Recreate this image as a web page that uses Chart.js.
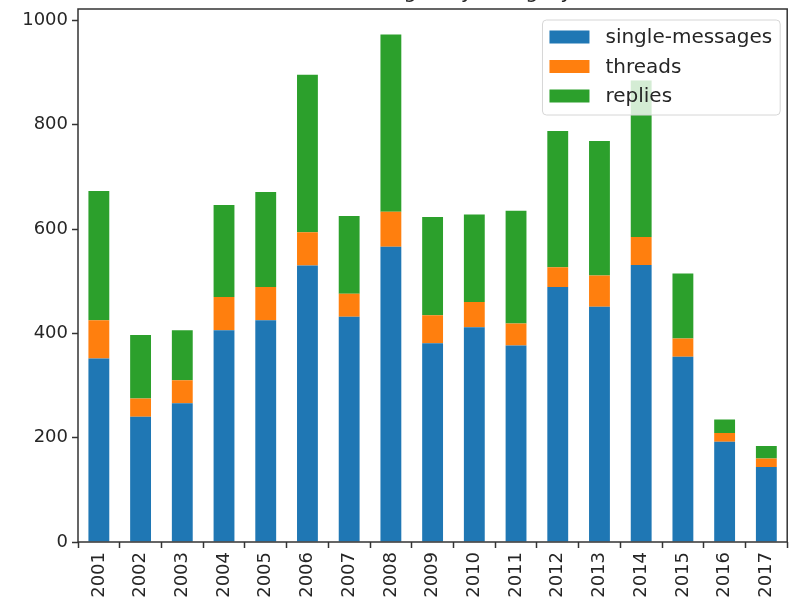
<!DOCTYPE html>
<html>
<head>
<meta charset="utf-8">
<title>Messages by year</title>
<script src="https://cdn.jsdelivr.net/npm/chart.js@4/dist/chart.umd.min.js"></script>
<style>
  html, body { margin: 0; padding: 0; background: #fff; overflow: hidden; }
  #wrap { position: absolute; left: 0; top: -18px; width: 792px; height: 629px; }
</style>
</head>
<body>
<div id="wrap"><canvas id="chart" width="792" height="629"></canvas></div>
<script>
// Yearly message counts, split by kind
const years = ['2001','2002','2003','2004','2005','2006','2007','2008','2009',
               '2010','2011','2012','2013','2014','2015','2016','2017'];
const singleMessages = [352, 240, 266, 406, 425, 530, 432, 566, 381, 412, 377, 489, 451, 531, 355, 192, 144];
const threads        = [ 73,  35,  44,  64,  64,  64,  44,  67,  54,  48,  42,  38,  60,  54,  35,  17,  16];
const replies        = [248, 122,  96, 176, 182, 302, 149, 340, 188, 168, 216, 261, 258, 300, 125,  26,  24];
const yTickValues    = [0, 200, 400, 600, 800, 1000];
const seriesNames    = ['single-messages', 'threads', 'replies'];
const chartTitle     = 'Number of messages by category';

const FONT = '"DejaVu Sans", "Liberation Sans", sans-serif';
const TEXT = '#262626';

// Box frame around the plotting area
const frame = {
  id: 'frame',
  afterDatasetsDraw(chart) {
    const { ctx, chartArea: a } = chart;
    ctx.save();
    ctx.strokeStyle = '#333';
    ctx.lineWidth = 1.5;
    ctx.strokeRect(a.left, a.top, a.right - a.left, a.bottom - a.top);
    ctx.restore();
  }
};

// Legend drawn inside the plot, over the bars, with a translucent panel
const insetLegend = {
  id: 'insetLegend',
  afterDatasetsDraw(chart) {
    const { ctx, chartArea: a } = chart;
    const sets = chart.data.datasets;
    ctx.save();
    ctx.font = '20px ' + FONT;
    const tw = Math.max(...sets.map(d => ctx.measureText(d.label).width));
    const w = 63 + tw + 8, h = 95;
    const right = a.right - 7, top = a.top + 11, left = right - w;
    const r = 4;
    ctx.beginPath();
    ctx.moveTo(left + r, top);
    ctx.lineTo(right - r, top);
    ctx.quadraticCurveTo(right, top, right, top + r);
    ctx.lineTo(right, top + h - r);
    ctx.quadraticCurveTo(right, top + h, right - r, top + h);
    ctx.lineTo(left + r, top + h);
    ctx.quadraticCurveTo(left, top + h, left, top + h - r);
    ctx.lineTo(left, top + r);
    ctx.quadraticCurveTo(left, top, left + r, top);
    ctx.closePath();
    ctx.fillStyle = 'rgba(255,255,255,0.8)';
    ctx.fill();
    ctx.strokeStyle = '#d6d6d6';
    ctx.lineWidth = 1;
    ctx.stroke();
    ctx.textBaseline = 'middle';
    ctx.textAlign = 'left';
    sets.forEach((d, i) => {
      const cy = top + 17 + i * 29.5;
      ctx.fillStyle = d.backgroundColor;
      ctx.fillRect(left + 7, cy - 6.5, 40, 13);
      ctx.fillStyle = TEXT;
      ctx.fillText(d.label, left + 63, cy + 1);
    });
    ctx.restore();
  }
};

new Chart(document.getElementById('chart'), {
  type: 'bar',
  data: {
    labels: years,
    datasets: [
      { label: seriesNames[0], data: singleMessages, backgroundColor: '#1f77b4' },
      { label: seriesNames[1], data: threads,        backgroundColor: '#ff7f0e' },
      { label: seriesNames[2], data: replies,        backgroundColor: '#2ca02c' }
    ]
  },
  options: {
    responsive: false,
    devicePixelRatio: 1,
    animation: false,
    layout: { padding: { left: 0, right: 2, top: 0, bottom: 0 } },
    datasets: { bar: { barPercentage: 0.5, categoryPercentage: 1.0, borderWidth: 0 } },
    plugins: {
      legend: { display: false },
      tooltip: { enabled: false },
      title: {
        display: true,
        text: chartTitle,
        color: TEXT,
        font: { family: FONT, size: 21, weight: 'normal', lineHeight: 1.2 },
        padding: { top: -2, bottom: 3.8 }
      }
    },
    scales: {
      x: {
        stacked: true,
        offset: true,
        border: { display: false },
        grid: { display: true, drawOnChartArea: false, drawTicks: true, tickLength: 6, tickColor: '#333', tickWidth: 1.5 },
        ticks: { color: TEXT, font: { family: FONT, size: 18 }, minRotation: 90, maxRotation: 90, padding: 4, autoSkip: false },
        afterFit(scale) { scale.height = 69; }
      },
      y: {
        stacked: true,
        min: 0,
        max: 1022,
        border: { display: false },
        grid: { display: true, drawOnChartArea: false, drawTicks: true, tickLength: 6, tickColor: '#333', tickWidth: 1.5 },
        ticks: { color: TEXT, font: { family: FONT, size: 18 }, padding: 4, callback: v => String(v) },
        afterBuildTicks(scale) { scale.ticks = yTickValues.map(v => ({ value: v })); },
        afterFit(scale) { scale.width = 78; }
      }
    }
  },
  plugins: [frame, insetLegend]
});
</script>
</body>
</html>
